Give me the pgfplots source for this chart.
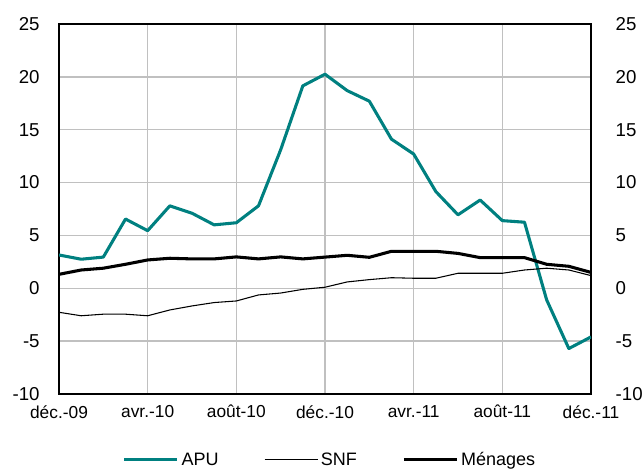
\documentclass[border=0pt]{standalone}
\usepackage{pgfplots}
\pgfplotsset{compat=1.18}
\usepackage{fontspec}
\setmainfont{Liberation Sans}
\definecolor{apu}{RGB}{0,128,128}
\definecolor{gridc}{RGB}{192,192,192}
\begin{document}
\begin{tikzpicture}
\pgfplotsset{
  base/.style={
    scale only axis, width=399pt, height=277.5pt,
    xmin=0, xmax=24, ymin=-10, ymax=25,
    ytick={-10,-5,...,25},
    xtick={0,4,...,24},
    major tick length=0pt,
    /pgf/number format/assume math mode=true,
    yticklabel style={font=\fontsize{14}{16}\selectfont},
    xticklabel style={font=\fontsize{13}{15}\selectfont},
  }
}
\begin{axis}[base,
  axis line style={black, line width=1pt},
  grid=major, major grid style={gridc, line width=1.1pt},
  xticklabels={déc.-09,avr.-10,août-10,déc.-10,avr.-11,août-11,déc.-11},
  xticklabel style={yshift=-5pt},
  yticklabel style={xshift=-11pt},
  legend columns=3,
  legend style={draw=none, at={(0.51,-0.178)}, anchor=center, font=\fontsize{13.5}{15}\selectfont,
    nodes={inner sep=2pt},
    /tikz/every even column/.append style={column sep=32pt}},
  legend image code/.code={\draw[#1] (0cm,0cm) -- (1.4cm,0cm);},
]
\coordinate (ll) at (rel axis cs:0,0);
\coordinate (ur) at (rel axis cs:1,1);
\addplot[apu, line width=2.3pt, line join=round] coordinates {
(0,3.15)(1,2.75)(2,2.95)(3,6.55)(4,5.45)(5,7.8)(6,7.1)(7,6.0)(8,6.2)(9,7.8)
(10,13.1)(11,19.15)(12,20.25)(13,18.7)(14,17.7)(15,14.1)(16,12.7)(17,9.15)
(18,6.95)(19,8.35)(20,6.4)(21,6.25)(22,-1.1)(23,-5.7)(24,-4.6)};
\addlegendentry{APU}
\addplot[black, line width=0.8pt, line join=round] coordinates {
(0,-2.27)(1,-2.6)(2,-2.45)(3,-2.45)(4,-2.6)(5,-2.05)(6,-1.67)(7,-1.35)(8,-1.2)
(9,-0.63)(10,-0.45)(11,-0.1)(12,0.1)(13,0.6)(14,0.82)(15,1.0)(16,0.95)(17,0.95)
(18,1.42)(19,1.42)(20,1.42)(21,1.73)(22,1.9)(23,1.73)(24,1.2)};
\addlegendentry{SNF}
\addplot[black, line width=2.3pt, line join=round] coordinates {
(0,1.32)(1,1.73)(2,1.9)(3,2.27)(4,2.68)(5,2.84)(6,2.78)(7,2.78)(8,2.97)(9,2.78)
(10,2.97)(11,2.78)(12,2.95)(13,3.12)(14,2.93)(15,3.5)(16,3.5)(17,3.5)(18,3.3)
(19,2.9)(20,2.9)(21,2.9)(22,2.27)(23,2.08)(24,1.5)};
\addlegendentry{Ménages}
\end{axis}
\begin{axis}[base,
  axis x line=none,
  axis y line*=right,
  axis line style={draw=none},
  yticklabel style={xshift=15pt},
  xticklabels={},
]
\addplot[draw=none] coordinates {(0,0)};
\end{axis}
\pgfresetboundingbox
\path ([shift={(-44.25pt,-55.5pt)}]ll) rectangle ([shift={(39pt,18pt)}]ur);
\end{tikzpicture}
\end{document}
